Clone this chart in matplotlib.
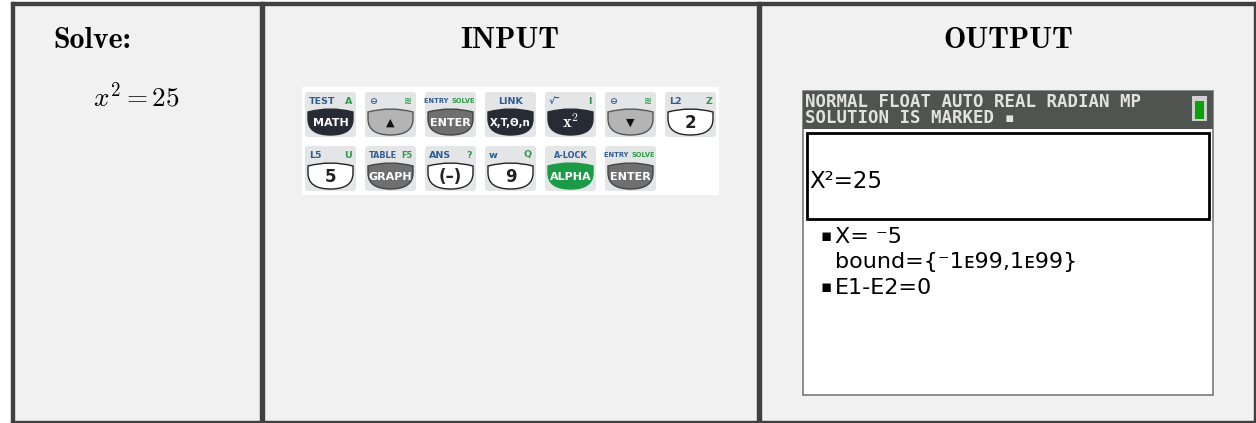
import matplotlib.pyplot as plt
from matplotlib.patches import Rectangle, FancyBboxPatch, PathPatch
from matplotlib.path import Path

plt.rcParams['mathtext.fontset'] = 'cm'

# table content
headers = ["Solve:", "INPUT", "OUTPUT"]
equation = r"$x^2 = 25$"

# keystrokes, row by row
row1_faces = ["MATH", "\u25B2", "ENTER", "X,T,\u0398,n", r"$\mathbf{x^2}$", "\u25BC", "2"]
row1_kind = ["dark", "arrow", "mid", "dark", "dark", "arrow", "white"]
row1_left = ["TEST", "\u2296", "ENTRY", "LINK", "\u221A\u203E", "\u2296", "L2"]
row1_right = ["A", "\u224B", "SOLVE", "", "I", "\u224B", "Z"]

row2_faces = ["5", "GRAPH", "(\u2013)", "9", "ALPHA", "ENTER"]
row2_kind = ["white", "mid", "white", "white", "green", "mid"]
row2_left = ["L5", "TABLE", "ANS", "w", "A-LOCK", "ENTRY"]
row2_right = ["U", "F5", "?", "Q", "", "SOLVE"]

# calculator screen
status_lines = ["NORMAL FLOAT AUTO REAL RADIAN MP", "SOLUTION IS MARKED \u25AA"]
entry = "X\u00B2=25"
result_lines = [("\u25AA", "X= \u207B5"), ("", "bound={\u207B1\u1D0799,1\u1D0799}"), ("\u25AA", "E1-E2=0")]

kind_style = {
    "dark": ("#262b36", "#262b36", "white"),
    "arrow": ("#b4b4b4", "#555555", "#111111"),
    "mid": ("#6f6f6f", "#444444", "white"),
    "white": ("white", "#222222", "#222222"),
    "green": ("#1d9a48", "#1d9a48", "white"),
}

fig = plt.figure(figsize=(12.56, 4.23), dpi=100)
ax = fig.add_axes([0, 0, 1, 1])
ax.set_xlim(0, 1256)
ax.set_ylim(423, 0)
ax.axis("off")

# table frame
ax.add_patch(Rectangle((12, 3), 1243, 419, facecolor="#f1f1f1", edgecolor="none"))
line_c = "#404040"
ax.add_patch(Rectangle((11, 2), 1245, 3, color=line_c))
ax.add_patch(Rectangle((11, 2), 3, 421, color=line_c))
ax.add_patch(Rectangle((260, 2), 3.5, 421, color=line_c))
ax.add_patch(Rectangle((757, 2), 3.5, 421, color=line_c))
ax.add_patch(Rectangle((1254, 2), 2, 421, color=line_c))
ax.add_patch(Rectangle((11, 421), 1245, 2, color=line_c))

ax.text(53, 48, headers[0], fontfamily="cmb10", fontsize=21.5, va="baseline", ha="left")
ax.text(510, 48, headers[1], fontfamily="cmb10", fontsize=21.5, va="baseline", ha="center")
ax.text(1008, 48, headers[2], fontfamily="cmb10", fontsize=21.5, va="baseline", ha="center")
ax.text(93, 106, equation, fontsize=19.5, va="baseline", ha="left")

# keypad
ax.add_patch(Rectangle((302, 87), 417, 108, facecolor="white", edgecolor="none"))


def button_path(x0, x1, yt, yb):
    xc = (x0 + x1) / 2
    verts = [(x0, yt + 2), (xc, yt - 4), (x1, yt + 2),
             (x1, yt + 9), (x1, yb), (xc, yb), (x0, yb), (x0, yt + 9), (x0, yt + 2)]
    codes = [Path.MOVETO, Path.CURVE3, Path.CURVE3,
             Path.LINETO, Path.CURVE3, Path.CURVE3, Path.CURVE3, Path.CURVE3, Path.CLOSEPOLY]
    return Path(verts, codes)


def draw_key(kx, ky, face, kind, left, right):
    ax.add_patch(FancyBboxPatch((kx, ky), 51, 45, boxstyle="round,pad=0,rounding_size=3",
                                facecolor="#e4e5e7", edgecolor="none"))
    fill, edge, txt = kind_style[kind]
    ax.add_patch(PathPatch(button_path(kx + 3, kx + 48, ky + 18, ky + 43),
                           facecolor=fill, edgecolor=edge, lw=1.0))
    fs = 8 if len(face) > 3 else 12
    if len(face) > 5:
        fs = 7.3
    if face in ("\u25B2", "\u25BC"):
        fs = 8
    if face.startswith("$"):
        fs = 12
    ax.text(kx + 25.5, ky + 30.5, face, color=txt, fontsize=fs, fontweight="bold",
            ha="center", va="center")
    lfs = 6.8 if len(left) + len(right) < 6 else 5.9
    if left in ("ENTRY",) and right == "SOLVE":
        ax.text(kx + 26, ky + 9, "ENTRY ", color="#2f5d96", fontsize=4.8, fontweight="bold",
                ha="right", va="center")
        ax.text(kx + 26, ky + 9, "SOLVE", color="#2e9a48", fontsize=4.8, fontweight="bold",
                ha="left", va="center")
    elif right == "":
        ax.text(kx + 25.5, ky + 9, left, color="#2f5d96", fontsize=lfs, fontweight="bold",
                ha="center", va="center")
    else:
        ax.text(kx + 4, ky + 9, left, color="#2f5d96", fontsize=lfs, fontweight="bold",
                ha="left", va="center")
        ax.text(kx + 47, ky + 9, right, color="#2e9a48", fontsize=lfs, fontweight="bold",
                ha="right", va="center")


for i in range(len(row1_faces)):
    draw_key(305 + 60 * i, 92, row1_faces[i], row1_kind[i], row1_left[i], row1_right[i])
for i in range(len(row2_faces)):
    draw_key(305 + 60 * i, 146, row2_faces[i], row2_kind[i], row2_left[i], row2_right[i])

# calculator screen
ax.add_patch(Rectangle((803, 91), 410, 304, facecolor="white", edgecolor="#7a7a7a", lw=1.2))
ax.add_patch(Rectangle((803, 91), 410, 38, facecolor="#4f5450", edgecolor="none"))
ax.text(805, 102, status_lines[0], color="#e2e2e2", fontfamily="DejaVu Sans Mono",
        fontsize=12.5, fontweight="bold", va="center", ha="left")
ax.text(805, 118, status_lines[1], color="#e2e2e2", fontfamily="DejaVu Sans Mono",
        fontsize=12.5, fontweight="bold", va="center", ha="left")
ax.add_patch(Rectangle((1192, 96), 15, 25, facecolor="#cfcfcf", edgecolor="none"))
ax.add_patch(Rectangle((1195, 101), 9, 18, facecolor="#0aa00a", edgecolor="none"))

ax.add_patch(Rectangle((807, 133), 402, 86, facecolor="white", edgecolor="black", lw=2))
ax.text(809, 188, entry, fontfamily="DejaVu Sans", fontsize=16.5, va="baseline", ha="left")

for j, (bullet, line) in enumerate(result_lines):
    yb = 243 + 25.5 * j
    if bullet:
        ax.text(821, yb - 2, bullet, fontfamily="DejaVu Sans", fontsize=12, va="baseline", ha="left")
    ax.text(835, yb, line, fontfamily="DejaVu Sans", fontsize=16, va="baseline", ha="left")

fig.savefig("out.png", dpi=100)
